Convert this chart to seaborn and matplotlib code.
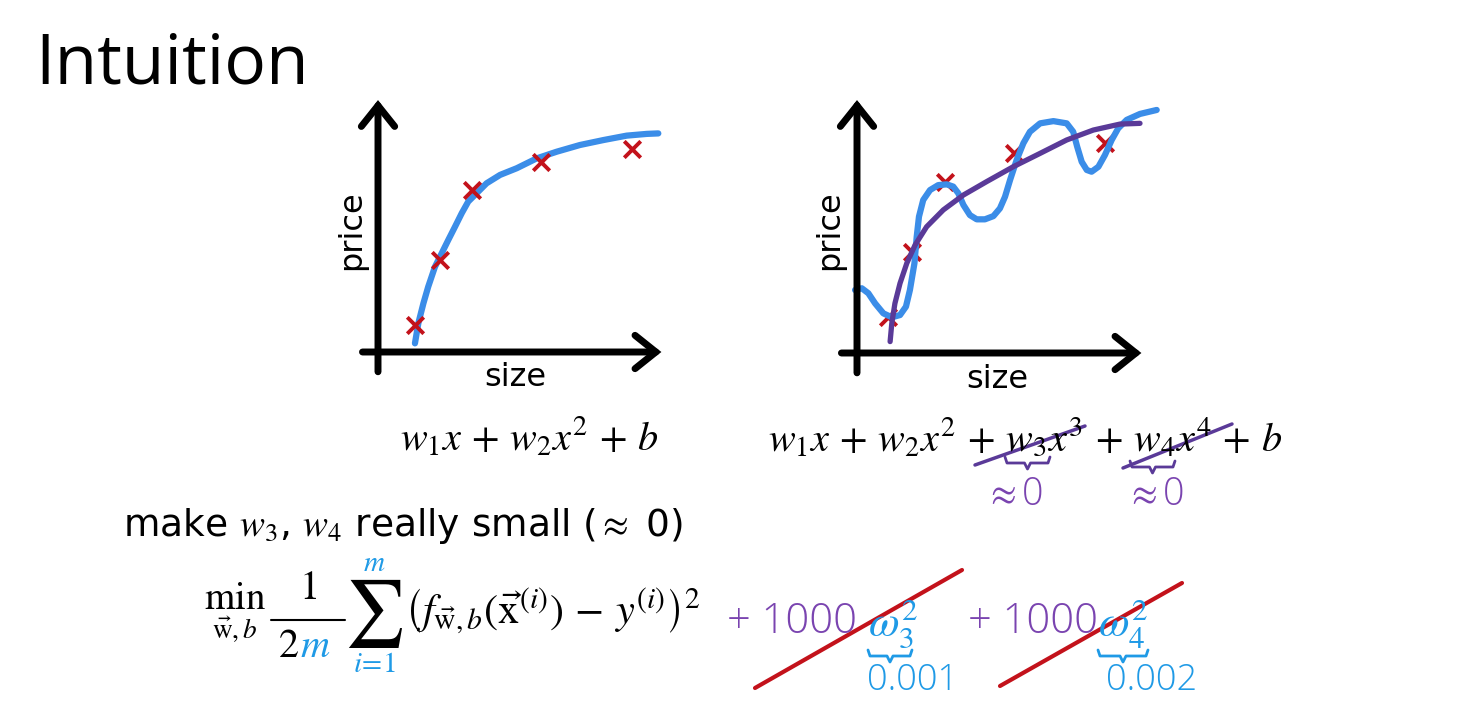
import numpy as np
import pandas as pd
import matplotlib
matplotlib.use("Agg")
import matplotlib.pyplot as plt
import seaborn as sns

# data (axis units 0..10 on both plots)
left_pts_x = [1.31, 2.20, 3.33, 5.78, 9.01]
left_pts_y = [1.09, 3.72, 6.56, 7.69, 8.22]
left_fit_x = [1.31, 1.43, 1.61, 1.78, 2.02, 2.26, 2.49, 2.73, 2.97, 3.20, 3.50, 3.85, 4.33, 4.92,
              5.63, 6.34, 7.16, 7.99, 8.82, 9.53, 9.94]
left_fit_y = [0.35, 1.16, 1.97, 2.64, 3.45, 4.00, 4.53, 5.07, 5.62, 6.09, 6.43, 6.83, 7.17, 7.44,
              7.84, 8.11, 8.38, 8.58, 8.76, 8.83, 8.85]

right_pts_x = [1.11, 1.93, 3.11, 5.56, 8.76]
right_pts_y = [1.46, 4.08, 6.91, 8.05, 8.46]
wiggle_x = [-0.07, 0.17, 0.40, 0.64, 0.93, 1.23, 1.52, 1.73, 1.87, 2.03, 2.11, 2.19, 2.34, 2.58,
            2.87, 3.17, 3.40, 3.58, 3.76, 3.99, 4.23, 4.52, 4.82, 5.05, 5.23, 5.41, 5.64, 5.88,
            6.11, 6.47, 6.94, 7.41, 7.64, 7.78, 7.94, 8.12, 8.29, 8.53, 8.76, 9.00, 9.23, 9.53,
            10.0, 10.59]
wiggle_y = [2.54, 2.61, 2.41, 2.00, 1.60, 1.44, 1.53, 1.87, 2.54, 3.62, 4.69, 5.50, 6.17, 6.57,
            6.77, 6.80, 6.71, 6.44, 5.97, 5.56, 5.39, 5.39, 5.52, 5.83, 6.30, 6.98, 7.78, 8.46,
            8.92, 9.26, 9.35, 9.26, 8.92, 8.32, 7.71, 7.38, 7.31, 7.51, 7.98, 8.59, 9.06, 9.40,
            9.64, 9.80]
smooth_x = [1.17, 1.23, 1.34, 1.52, 1.76, 2.05, 2.46, 3.05, 3.76, 4.58, 5.52, 6.47, 7.41, 8.35,
            9.29, 10.0]
smooth_y = [0.46, 1.20, 2.00, 2.81, 3.62, 4.35, 5.09, 5.77, 6.37, 6.91, 7.51, 8.05, 8.59, 8.99,
            9.23, 9.26]

blue = "#3b8de8"
purple = "#5a3a98"
red = "#c3121b"
pen_blue = "#1f9ae6"
pen_purple = "#7a44b0"

W, H = 1463, 707
sns.set_style("white")
plt.rcParams["mathtext.fontset"] = "stix"
plt.rcParams["font.family"] = ["DejaVu Sans"]
plt.rcParams["text.color"] = "black"

fig = plt.figure(figsize=(W / 100, H / 100), dpi=100)
fig.patch.set_facecolor("white")


def px(x, y):
    return x / W, 1 - y / H


def axes_at(x0, y_bottom, x1, y_top):
    ax = fig.add_axes([x0 / W, 1 - y_bottom / H, (x1 - x0) / W, (y_bottom - y_top) / H])
    ax.set_xlim(0, 10)
    ax.set_ylim(0, 10)
    ax.axis("off")
    # hand drawn style axes with open arrow heads
    head = dict(arrowstyle="->,head_length=1.5,head_width=1.2", lw=5, color="black",
                shrinkA=0, shrinkB=0, joinstyle="miter")
    ax.annotate("", xy=(0, 10.2), xytext=(0, -0.8), arrowprops=head, annotation_clip=False)
    ax.annotate("", xy=(10.05, 0), xytext=(-0.55, 0), arrowprops=head, annotation_clip=False)
    return ax


line_kw = dict(sort=False, solid_capstyle="round", solid_joinstyle="round", clip_on=False)

ax1 = axes_at(378, 352, 660, 105)
sns.lineplot(x=left_fit_x, y=left_fit_y, ax=ax1, color=blue, lw=4.5, **line_kw)
sns.scatterplot(x=left_pts_x, y=left_pts_y, ax=ax1, marker="x", s=140, color=red,
                linewidth=2.8, zorder=3, clip_on=False)

ax2 = axes_at(857, 353, 1140, 105)
sns.scatterplot(x=right_pts_x, y=right_pts_y, ax=ax2, marker="x", s=140, color=red,
                linewidth=2.8, zorder=1, clip_on=False)
sns.lineplot(x=wiggle_x, y=wiggle_y, ax=ax2, color=blue, lw=4.5, zorder=2, **line_kw)
sns.lineplot(x=smooth_x, y=smooth_y, ax=ax2, color=purple, lw=3.8, zorder=4, **line_kw)

# labels
fig.text(*px(35, 66), "Intuition", fontsize=50, family="Open Sans", va="center", ha="left")
for cx in (352, 830):
    fig.text(*px(cx, 230), "price", fontsize=23, rotation=90, va="center", ha="center")
fig.text(*px(515, 378), "size", fontsize=23, va="center", ha="center")
fig.text(*px(997, 380), "size", fontsize=23, va="center", ha="center")

fig.text(*px(529, 438), r"$w_1x\,+\,w_2x^2\,+\,b$", fontsize=29, va="center", ha="center")
fig.text(*px(1025, 438), r"$w_1x\,+\,w_2x^2\,+\,w_3x^3\,+\,w_4x^4\,+\,b$", fontsize=29,
         va="center", ha="center")

fig.text(*px(123, 526), r"make $w_3$, $w_4$ really small ($\approx$ 0)", fontsize=27,
         va="center", ha="left")

# cost function
fig.text(*px(235, 612), r"$\min_{\vec{\mathrm{w}},b}$", fontsize=28, va="center", ha="center")
fig.text(*px(308, 588), r"$1$", fontsize=29, va="center", ha="center")
fig.add_artist(plt.Line2D([271 / W, 345 / W], [1 - 620 / H] * 2, color="black", lw=1.5))
fig.text(*px(299, 646), r"$2$", fontsize=29, va="center", ha="right")
fig.text(*px(300, 646), r"$m$", fontsize=29, va="center", ha="left", color=pen_blue)
fig.text(*px(374, 614), r"$\sum$", fontsize=48, va="center", ha="center")
fig.text(*px(374, 563), r"$m$", fontsize=21, va="center", ha="center", color=pen_blue)
fig.text(*px(374, 664), r"$i\!=\!1$", fontsize=21, va="center", ha="center", color=pen_blue)
fig.text(*px(405, 612),
         r"$\left(f_{\vec{\mathrm{w}},b}\left(\vec{\mathrm{x}}^{(i)}\right)\,-\,y^{(i)}\right)^2$",
         fontsize=30.5, va="center", ha="left")

# handwritten annotations
hw = dict(family="Open Sans", fontweight="light")
fig.text(*px(727, 622), "+ 1000", fontsize=30, color=pen_purple, va="center", ha="left", **hw)
fig.text(*px(968, 622), "+ 1000", fontsize=30, color=pen_purple, va="center", ha="left", **hw)
fig.text(*px(868, 624), r"$\omega_3^2$", fontsize=32, color=pen_blue, va="center", ha="left")
fig.text(*px(1098, 624), r"$\omega_4^2$", fontsize=32, color=pen_blue, va="center", ha="left")
fig.text(*px(913, 680), "0.001", fontsize=26, color=pen_blue, va="center", ha="center", **hw)
fig.text(*px(1152, 680), "0.002", fontsize=26, color=pen_blue, va="center", ha="center", **hw)
fig.text(*px(1014, 495), r"$\approx$0", fontsize=27, color=pen_purple, va="center", ha="center", **hw)
fig.text(*px(1155, 495), r"$\approx$0", fontsize=27, color=pen_purple, va="center", ha="center", **hw)


def stroke(x0, y0, x1, y1, color, lw):
    fig.add_artist(plt.Line2D([x0 / W, x1 / W], [1 - y0 / H, 1 - y1 / H], color=color, lw=lw,
                              solid_capstyle="round"))


def brace(x0, x1, y, color):
    xs = [x0, x0 + 2, (x0 + x1) / 2 - 3, (x0 + x1) / 2, (x0 + x1) / 2 + 3, x1 - 2, x1]
    ys = [y - 6, y, y, y + 6, y, y, y - 6]
    fig.add_artist(plt.Line2D([v / W for v in xs], [1 - v / H for v in ys], color=color, lw=2))


stroke(975, 465, 1085, 426, purple, 2.5)
stroke(1123, 468, 1232, 424, purple, 2.5)
brace(1005, 1050, 463, purple)
brace(1130, 1175, 467, purple)
brace(868, 912, 656, pen_blue)
brace(1098, 1148, 656, pen_blue)
stroke(755, 688, 962, 570, red, 3)
stroke(1000, 686, 1182, 583, red, 3)

fig.savefig("out.png", dpi=100, facecolor="white")
